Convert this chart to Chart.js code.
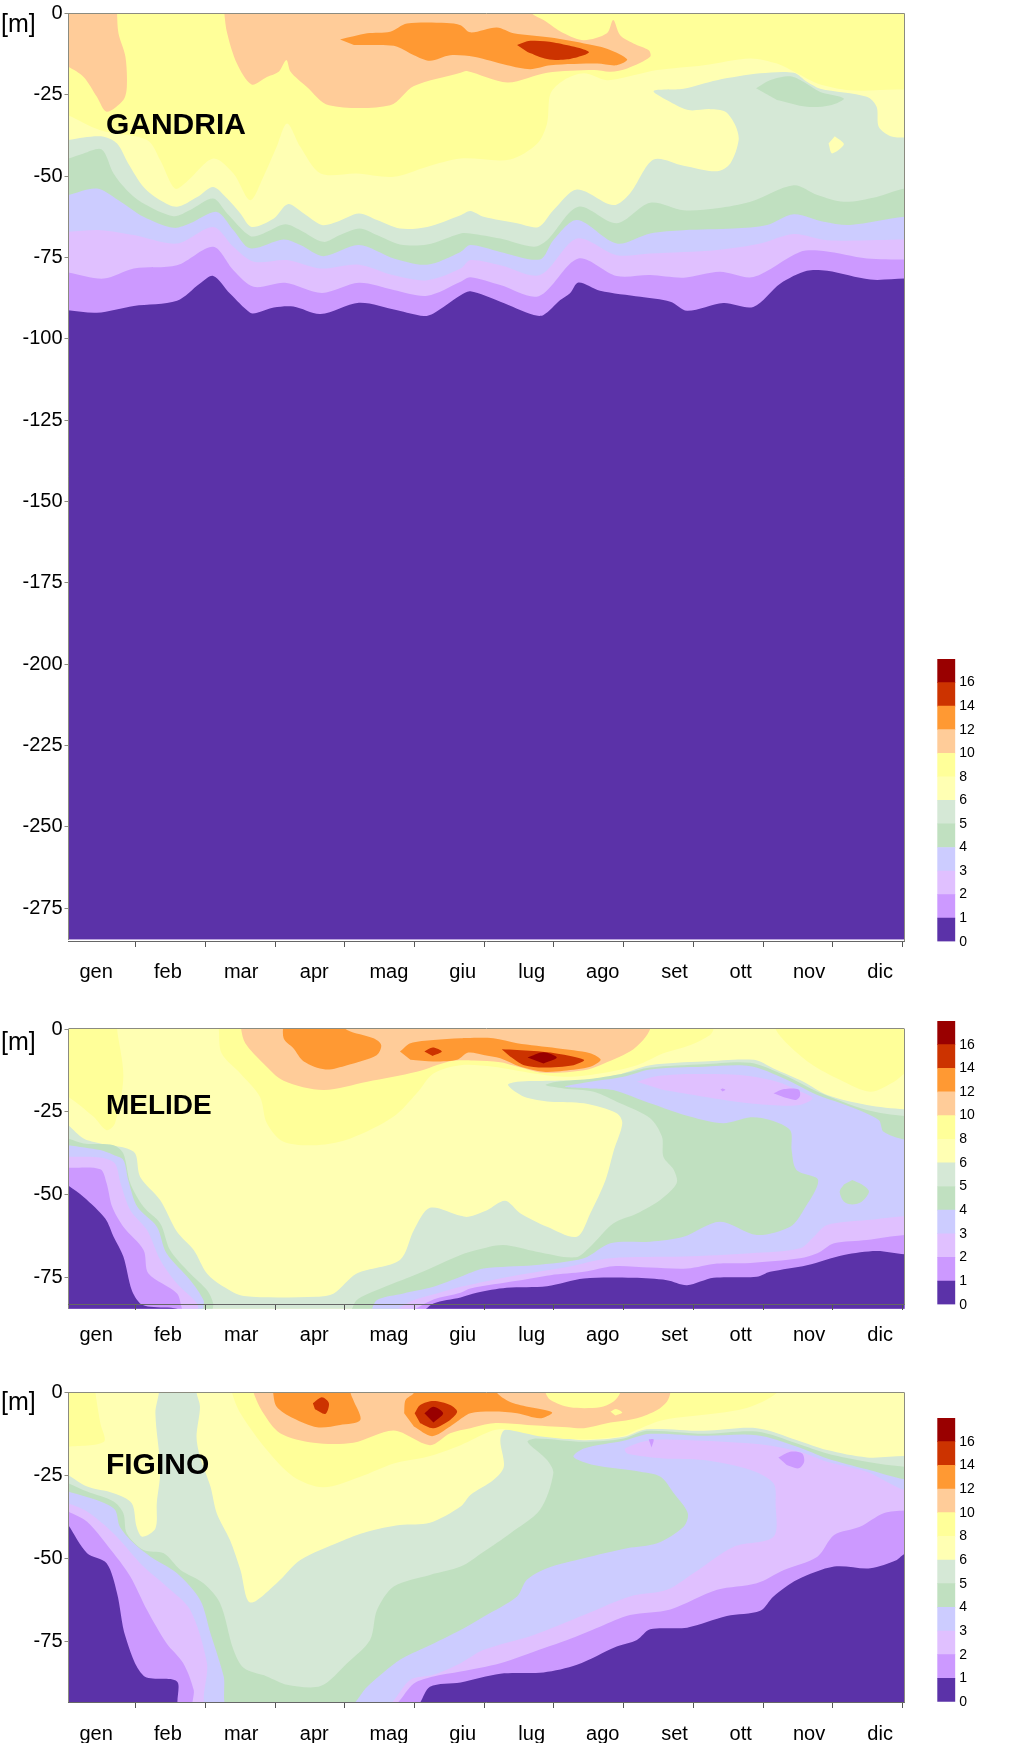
<!DOCTYPE html>
<html><head><meta charset="utf-8">
<style>html,body{margin:0;padding:0;background:#fff;width:1024px;height:1744px;overflow:hidden}canvas{position:absolute}</style>
<script src="https://cdn.jsdelivr.net/npm/chart.js@4"></script>
</head><body>
<canvas id="p1" style="left:0;top:0"></canvas>
<canvas id="p2" style="left:0;top:1000px"></canvas>
<canvas id="p3" style="left:0;top:1365px"></canvas>
<canvas id="l1" style="left:930px;top:645px"></canvas>
<canvas id="l2" style="left:930px;top:1007.3px"></canvas>
<canvas id="l3" style="left:930px;top:1404.3px"></canvas>
<script>
const months=['gen','feb','mar','apr','mag','giu','lug','ago','set','ott','nov','dic'];
const monthEnds=[1,2,3,4,5,6,7,8,9,10,11,12];
const monthLabelCenters=[.43,1.46,2.51,3.56,4.63,5.69,6.68,7.70,8.73,9.68,10.66,11.68];
const depthTicks1=[0,-25,-50,-75,-100,-125,-150,-175,-200,-225,-250,-275];
const depthTicks2=[0,-25,-50,-75];
const legendTicks=[0,1,2,3,4,5,6,8,10,12,14,16];
const c0='#5b32a8',c1='#cc99ff',c2='#e0c0ff',c3='#ccccff',c4='#c0e0c0',c5='#d5e8d6',c6='#ffffb3',c8='#ffff99',c10='#ffcc99',c12='#ff9933',c14='#cc3300',c16='#990000';
const legendColors=[c0,c1,c2,c3,c4,c5,c6,c8,c10,c12,c14,c16];

// GANDRIA contour lines: [month, depth]
const gandria6=[[.03,-38.9],[.25,-38.1],[.54,-37.9],[.73,-40],[.89,-46.1],[1.11,-53.3],[1.35,-57.4],[1.59,-59.4],[1.88,-56.4],[2.11,-53.3],[2.31,-56.9],[2.50,-61.5],[2.66,-65.6],[2.98,-63],[3.18,-58.6],[3.41,-61.5],[3.67,-65],[3.89,-64],[4.20,-61.5],[4.46,-63.5],[4.79,-66.1],[5.18,-65.6],[5.66,-62],[5.80,-60.7],[5.99,-62.5],[6.47,-64.5],[6.78,-65.6],[6.99,-60.5],[7.33,-54.1],[7.85,-58.9],[8.09,-55.3],[8.43,-44.9],[8.86,-46.8],[9.34,-48.5],[9.53,-46.1],[9.65,-38.9],[9.60,-34.3],[9.46,-30.2],[9.24,-29.4],[8.93,-29.7],[8.67,-27.2],[8.43,-23.8],[8.86,-23.1],[9.34,-20.5],[9.96,-18.4],[10.44,-18.2],[10.63,-21],[10.82,-23.1],[11.49,-25.6],[11.63,-28.7],[11.66,-34.8],[11.83,-37.7],[12.03,-38.1]];
const gandria5=[[.03,-44.6],[.25,-43],[.51,-41.8],[.68,-49.2],[.87,-54.3],[1.11,-58.4],[1.54,-62.3],[1.78,-60.4],[2.11,-56.9],[2.31,-61.5],[2.64,-68.4],[2.83,-67.6],[3.14,-64.8],[3.36,-66.6],[3.69,-70.2],[3.93,-68.1],[4.21,-66.1],[4.46,-68.1],[4.79,-71],[5.18,-71],[5.66,-67.6],[5.80,-67.6],[6.23,-69.2],[6.71,-71.7],[6.90,-69.7],[7.35,-59.4],[7.90,-64.5],[8.38,-58.2],[8.86,-60.5],[9.34,-59.9],[9.82,-57.9],[10.44,-52.8],[10.78,-55.8],[11.16,-57.9],[11.63,-56.4],[12.03,-53.8]];
const gandria5b=[[9.90,-23],[10.10,-20.5],[10.39,-19.3],[10.58,-21],[10.82,-24.1],[11.16,-26.1],[10.97,-28.2],[10.63,-28.7],[10.20,-26.6]];
const gandria6b=[[11.03,-37.7],[11.16,-40.2],[10.99,-43],[10.94,-40]];
const gandria4=[[.03,-55.8],[.44,-53.8],[.75,-57.4],[1.11,-62.5],[1.54,-65.9],[1.78,-64.5],[2.16,-61],[2.40,-66.6],[2.64,-72.2],[3.12,-69.5],[3.36,-71.2],[3.69,-74.6],[4.20,-71.2],[4.70,-75.3],[5.18,-77.2],[5.66,-73.3],[5.80,-71.2],[6.23,-73.3],[6.80,-75.6],[6.99,-69.7],[7.33,-63.5],[7.90,-70.7],[8.38,-67.6],[8.86,-66.6],[9.58,-66.1],[10.06,-65],[10.44,-61.7],[10.87,-64],[11.25,-65],[12.03,-62.5]];
const gandria3=[[.03,-67.1],[.49,-66.6],[.97,-68.1],[1.59,-70.7],[2.11,-65.6],[2.40,-71.7],[2.69,-76.3],[3.17,-75.8],[3.65,-78.4],[4.20,-77.2],[4.70,-80.5],[5.18,-82],[5.66,-78.4],[5.80,-75.8],[6.23,-77.4],[6.80,-80.4],[7.33,-69.2],[7.90,-74.3],[8.38,-73.8],[9.34,-72.7],[9.96,-70.7],[10.44,-67.8],[10.92,-69.7],[12.03,-69.5]];
const gandria2=[[.03,-79.6],[.54,-81.5],[.97,-78.4],[1.59,-77.4],[2.11,-71.7],[2.40,-78.9],[2.69,-84],[3.14,-82.8],[3.67,-85.9],[4.20,-82.8],[4.70,-85],[5.18,-86.8],[5.66,-82.5],[5.80,-81.1],[6.23,-83.5],[6.78,-86.9],[7.35,-75.3],[7.90,-80.7],[8.38,-80.4],[8.86,-81.2],[9.38,-79.4],[9.86,-81],[10.53,-73.3],[10.87,-73],[11.49,-75.3],[12.03,-75.6]];
const gandria1=[[.03,-91.2],[.44,-92],[.97,-89.9],[1.59,-88.3],[1.92,-83],[2.11,-80.7],[2.35,-86.1],[2.64,-92],[2.74,-92],[2.98,-90.4],[3.26,-90.1],[3.65,-92.4],[4.20,-88.9],[4.75,-91.2],[5.13,-93],[5.27,-92.2],[5.66,-86.6],[5.80,-85.4],[6.23,-88.6],[6.71,-92.7],[6.85,-92.7],[7.09,-88.1],[7.23,-86],[7.35,-82.7],[7.66,-85.2],[8.24,-87.1],[8.67,-88.6],[8.91,-91.4],[9.43,-89],[9.86,-90.2],[10.25,-83],[10.63,-79.1],[10.92,-79.1],[11.54,-81.8],[12.03,-81.5]];
const gandria8=[[.03,-31.3],[.49,-35.9],[1.16,-38.9],[1.35,-45.1],[1.56,-53.8],[1.73,-51.7],[2.11,-44.6],[2.40,-49.2],[2.64,-57.4],[2.83,-50.2],[3.02,-41],[3.17,-33.8],[3.36,-41],[3.65,-49.2],[4.17,-49.2],[4.70,-50.2],[5.18,-47.1],[5.66,-44.6],[6.37,-44.9],[6.76,-40],[6.90,-33.8],[6.95,-24.6],[7.14,-20.5],[7.43,-18.4],[7.76,-20.5],[8.14,-19],[8.48,-17.4],[9.15,-15.9],[9.82,-13.8],[10.2,-15.4],[10.49,-18.4],[10.78,-21.5],[11.25,-23.6],[11.92,-23.4],[12.03,-23.4]];
const gandria10a=[[-.2,3],[.73,3],[.73,0],[.75,-6.1],[.85,-13.3],[.87,-22.5],[.82,-26.6],[.58,-30.2],[.44,-25.6],[.25,-19.5],[.03,-16.4],[-.2,-14]];
const gandria10b=[[2.27,3],[2.27,0],[2.31,-6.1],[2.45,-15.4],[2.66,-21.8],[2.88,-19.5],[3.05,-17.9],[3.16,-14.3],[3.22,-17.9],[3.45,-22.5],[3.77,-28.2],[4.65,-28.2],[4.99,-22.3],[5.66,-18.2],[5.75,-17.7],[6.33,-21.2],[6.90,-18.2],[7.57,-17.4],[7.81,-17.9],[8.05,-16.9],[8.38,-13.3],[8.36,-11.3],[8.14,-9.2],[7.95,-6.7],[7.85,-2],[7.76,-6.1],[7.43,-8.2],[7.14,-6.1],[6.85,-2],[6.68,0],[6.6,3]];
const gandria12=[[3.93,-8],[4.32,-6.1],[4.65,-5.6],[4.89,-3.1],[5.46,-2.9],[5.66,-3.6],[5.80,-5.8],[6.18,-4.3],[6.42,-6.1],[6.95,-7.4],[7.43,-9.2],[7.76,-10.8],[8.05,-14.1],[7.90,-15.9],[7.62,-15.4],[6.95,-15.9],[6.66,-17.1],[6.33,-15.9],[5.85,-13.3],[5.51,-12.8],[5.22,-14.5],[4.99,-12.8],[4.75,-10.2],[4.55,-9.7],[4.13,-9.7]];
const gandria14=[[6.47,-9.7],[6.66,-8.4],[7,-8.9],[7.50,-11.8],[7.19,-14.1],[6.90,-14],[6.62,-11.8]];

// MELIDE
const melide6=[[.03,-28.9],[.25,-33],[.49,-34.5],[.97,-37],[1.06,-44.5],[1.35,-51.6],[1.59,-61.1],[1.83,-66.6],[2.02,-73.7],[2.26,-77.7],[2.55,-80.5],[3.60,-80.7],[3.84,-79.7],[4.17,-73.7],[4.79,-69.6],[4.99,-60.6],[5.22,-53.9],[5.66,-56.3],[5.77,-56.6],[6.04,-54.6],[6.30,-51.8],[6.52,-55.6],[6.90,-59.6],[7.33,-62.6],[7.52,-55.6],[7.74,-45.5],[7.86,-36.5],[7.98,-28.4],[7.90,-25.4],[7.43,-22.4],[6.95,-21.9],[6.57,-20.4],[6.34,-16.9],[6.47,-15.9],[6.95,-15.6],[7.52,-15.2],[7.90,-13.9],[8.38,-10.9],[9.15,-9.8],[9.87,-9.3],[10.15,-11.9],[10.58,-15.9],[10.92,-19.9],[11.49,-22.9],[12.03,-24.2]];
const melide5=[[.03,-33],[.25,-34.5],[.68,-35],[.82,-37.5],[.92,-46.5],[1.11,-53.6],[1.35,-58.6],[1.49,-66.6],[1.78,-73.7],[2.02,-78.7],[2.11,-82.7],[2.11,-86],[4.03,-86],[4.17,-81.7],[4.46,-78.7],[4.94,-74.7],[5.27,-71.7],[5.66,-68.1],[5.89,-66.6],[6.27,-65.1],[6.75,-67.1],[7.31,-68.8],[7.52,-65.6],[7.85,-58.6],[8.19,-55.6],[8.52,-51.6],[8.76,-46.5],[8.72,-42.5],[8.57,-38.5],[8.55,-32.5],[8.38,-26.9],[7.95,-22.4],[7.57,-18.9],[7.14,-17.9],[6.88,-16.9],[7.04,-15.9],[7.57,-14.9],[8.00,-13.4],[8.38,-11.6],[9.15,-10.6],[9.82,-10.2],[10.30,-13.9],[10.78,-18.9],[11.49,-24.4],[12.03,-26.2]];
const melide4=[[.03,-35],[.49,-36.5],[.68,-38],[.82,-39.5],[.89,-45.5],[1.02,-53.6],[1.30,-59.6],[1.44,-67.6],[1.78,-75.7],[1.97,-81.7],[1.99,-86],[4.32,-86],[4.46,-81.7],[4.84,-79.7],[5.27,-77.7],[5.66,-74.7],[5.99,-72.2],[6.71,-71.2],[7.43,-69.1],[7.81,-64.6],[8.38,-64.1],[8.86,-62.6],[9.38,-58.1],[9.91,-62.1],[10.39,-59.6],[10.58,-54.6],[10.79,-45.5],[10.48,-42.5],[10.41,-36.5],[10.39,-30.5],[10.10,-27.4],[9.82,-26.6],[9.43,-28.4],[8.95,-26.4],[8.38,-22.4],[7.85,-18.4],[7.52,-17.9],[7.16,-17.4],[7.43,-16.2],[8,-14.4],[8.38,-12.2],[9.15,-11.4],[9.82,-11.2],[10.3,-14.9],[10.78,-19.9],[11.25,-23.4],[11.66,-27.4],[11.73,-31],[12.03,-33.3]];
const melide5b=[[11.28,-45.5],[11.42,-46.9],[11.52,-49],[11.42,-52],[11.28,-52.9],[11.16,-52],[11.1,-49],[11.16,-46.9]];
const melide3=[[.03,-38.5],[.49,-38.7],[.70,-40.5],[.78,-46.5],[.92,-54.6],[1.16,-60.6],[1.35,-69.6],[1.59,-76.7],[1.88,-82.7],[1.92,-86],[4.55,-86],[4.99,-81.7],[5.32,-79.7],[5.66,-77.7],[6.47,-74.2],[7.19,-71.7],[7.81,-69.1],[8.86,-68.6],[9.82,-67.6],[10.53,-66.1],[10.73,-62.6],[10.92,-59.1],[11.49,-57.6],[12.03,-56.4]];
const melide3b=[[8.19,-15.9],[8.43,-14.4],[8.95,-13.6],[9.67,-13.9],[10.2,-15.9],[10.49,-18.4],[10.71,-20.9],[10.53,-22.9],[10.1,-22.9],[9.62,-21.9],[9.15,-20.4],[8.57,-18.4]];
const melide2=[[.03,-41.8],[.49,-42.3],[.58,-46.5],[.66,-53.6],[.82,-59.6],[1.11,-66.6],[1.18,-73.7],[1.59,-79.7],[1.73,-86],[4.79,-86],[5.27,-81.5],[5.66,-79.5],[5.80,-78.2],[6.47,-75.9],[6.95,-74.2],[7.43,-73.2],[7.85,-71.5],[8.38,-71.9],[8.91,-72.2],[9.34,-70.7],[9.82,-70.5],[10.53,-69.1],[10.78,-67.6],[11.02,-64.6],[11.49,-63.6],[12.03,-62.1]];
const melide2b=[[10.15,-19.4],[10.30,-18.1],[10.51,-18.2],[10.53,-20.2],[10.47,-21.4],[10.30,-20.6]];
const melide2c=[[9.39,-18.2],[9.42,-17.9],[9.46,-18.3],[9.42,-18.8]];
const melide1=[[.03,-47.2],[.25,-50.6],[.56,-57.1],[.68,-62.6],[.82,-68.6],[.94,-78.7],[1.06,-82.7],[1.21,-83.7],[1.59,-84.3],[1.59,-86],[5.03,-86],[5.27,-82.7],[5.66,-80.9],[5.89,-79.5],[6.32,-78],[6.90,-77.5],[7.43,-75.2],[8.14,-75],[8.62,-75.7],[8.91,-77.2],[9.29,-75],[9.91,-74.7],[10.10,-73.2],[10.63,-71.2],[11.16,-68.1],[11.63,-66.9],[12.03,-67.9]];
const melide8a=[[.73,3],[.73,0],[.82,-14.4],[.70,-28.4],[.58,-30.5],[.39,-26.4],[.03,-20.4],[-.2,-18],[-.2,3]];
const melide8b=[[2.19,3],[2.19,0],[2.23,-7.3],[2.50,-13.4],[2.78,-20.4],[2.88,-28.4],[3.12,-34],[3.60,-35],[4.08,-33],[4.70,-26.4],[5.03,-19.4],[5.27,-13.4],[5.66,-10.9],[6.13,-11.4],[6.71,-13.4],[7.19,-14.4],[7.66,-13.4],[8.19,-10.9],[8.57,-7.3],[8.96,-4.8],[9.24,-1.8],[9.29,0],[9.29,3]];
const melide8c=[[10.18,3],[10.18,0],[10.34,-4.3],[10.68,-10.4],[11.11,-15.4],[11.54,-18.9],[11.88,-15.9],[12.03,-13.4],[12.3,-10],[12.3,3]];
const melide10=[[2.51,3],[2.51,0],[2.57,-4.3],[2.83,-10.4],[3.12,-15.6],[3.69,-18.4],[4.32,-15.9],[5.03,-12.9],[5.51,-9.7],[5.85,-9.5],[6.23,-10],[6.42,-11],[6.85,-13.2],[7.43,-12.4],[7.66,-10.9],[8.09,-6.8],[8.28,-3.3],[8.38,0],[8.38,3]];
const melide12a=[[3.12,3],[3.12,-2.8],[3.26,-5.8],[3.41,-9.8],[3.72,-12.2],[4.03,-10.9],[4.46,-7.8],[4.52,-4.8],[4.41,-2.8],[4.03,-.3],[3.9,3]];
const melide12b=[[4.79,-6.8],[4.94,-4.3],[5.27,-3.3],[5.66,-2.8],[5.75,-2.7],[6.13,-2.8],[6.47,-4.3],[7.04,-5.8],[7.52,-7.3],[7.67,-9.3],[7.52,-11.4],[7.14,-12.6],[6.85,-12.9],[6.52,-11.4],[6.23,-8.8],[5.99,-7.8],[5.77,-7.1],[5.61,-9.3],[5.27,-9.8],[4.94,-9.3]];
const melide14a=[[5.14,-6.8],[5.26,-5.6],[5.39,-6.8],[5.26,-8.1]];
const melide14b=[[6.25,-6.1],[6.47,-6.3],[6.95,-7.1],[7.43,-9.3],[7.28,-10.9],[6.85,-11.6],[6.57,-10.9],[6.37,-8.3]];
const melide16=[[6.62,-8.6],[6.85,-7],[7.04,-8.6],[6.85,-10.4]];

// FIGINO
const figino6=[[.03,-24.8],[.30,-28.3],[.68,-30.3],[.94,-33.3],[1.01,-40.4],[1.09,-43.4],[1.28,-40.9],[1.30,-33.3],[1.35,-23.3],[1.28,-6.2],[1.33,0],[1.33,3],[1.87,3],[1.87,0],[1.92,-4.2],[1.87,-13.3],[1.92,-19.3],[2.07,-28.3],[2.16,-36.3],[2.35,-44.4],[2.50,-53.4],[2.64,-63.2],[3.02,-57.4],[3.36,-50.4],[3.93,-44.9],[4.32,-41.9],[4.79,-39.9],[5.22,-39.2],[5.66,-34.3],[5.80,-30.8],[6.13,-26.3],[6.28,-22.3],[6.23,-14.3],[6.30,-11.2],[6.85,-13],[7.43,-14.3],[8,-13.3],[8.33,-11],[9.15,-11.5],[9.91,-10.7],[10.49,-14.3],[10.92,-17.3],[11.49,-19.5],[12.03,-19.1]];
const figino5=[[.03,-27.3],[.30,-29.8],[.68,-32.8],[.82,-36.3],[.87,-42.4],[1.11,-47.4],[1.40,-48.4],[1.64,-53.4],[1.97,-57.4],[2.21,-63.5],[2.40,-77.5],[2.55,-83],[2.88,-85.5],[3.17,-88],[3.65,-88.4],[4.03,-81.5],[4.36,-74.5],[4.46,-65.5],[4.70,-58.4],[5.22,-54.9],[5.66,-52.4],[5.99,-47.9],[6.37,-42.4],[6.80,-35.3],[6.99,-24.3],[6.90,-20.3],[6.62,-14.8],[6.75,-13.8],[7.43,-14.8],[8,-13.8],[8.33,-11.5],[9.15,-12.4],[9.91,-11.7],[10.49,-15.3],[10.92,-18.3],[11.49,-20.8],[12.03,-22.3]];
const figino4=[[.03,-29.8],[.49,-32.8],[.70,-35.3],[.77,-40.4],[.97,-45.4],[1.21,-49.4],[1.59,-54.4],[1.92,-62.4],[2.07,-72.5],[2.26,-85.5],[2.33,-95],[4.03,-95],[4.32,-88.6],[4.79,-80.5],[5.18,-76.5],[5.66,-71.5],[5.99,-67.5],[6.47,-61.4],[6.61,-56.4],[6.90,-52.9],[7.43,-49.9],[8.05,-46.9],[8.48,-45.4],[8.86,-40.4],[8.92,-36.3],[8.72,-30.3],[8.53,-25.3],[8.24,-23.8],[7.57,-21.8],[7.28,-19.3],[7.43,-16.8],[8,-14.5],[8.38,-12.4],[9.15,-13],[9.91,-12.8],[10.49,-16.3],[10.92,-19.8],[11.49,-23.1],[12.03,-26.1]];
const figino3=[[.03,-33.3],[.30,-35.8],[.68,-42.4],[1.11,-52.4],[1.44,-58.4],[1.78,-65.5],[2.02,-81.5],[2.04,-95],[4.55,-95],[4.94,-86.5],[5.27,-85],[5.66,-81.5],[5.99,-77.5],[6.71,-73],[7.43,-67],[8.09,-61.4],[8.62,-59.4],[9,-54.4],[9.58,-46.4],[10.15,-43.4],[10.18,-33.3],[10.15,-27.3],[9.82,-23.3],[9.15,-20.3],[8.57,-19.8],[8.05,-18.3],[8.02,-16.8],[8.38,-14.3],[9.15,-14.5],[10.06,-15.8],[10.53,-17.8],[10.92,-20.8],[11.49,-23.8],[12.03,-29.3]];
const figino2=[[.03,-35.8],[.30,-38.9],[.68,-48.4],[.92,-55.4],[1.16,-65.5],[1.44,-75.5],[1.68,-81.5],[1.83,-89.6],[1.84,-95],[4.63,-95],[4.99,-87.6],[5.27,-85.5],[5.66,-84],[6.23,-81.5],[6.85,-77],[7.19,-74.5],[7.66,-70.5],[8.09,-67],[8.67,-65.3],[9.34,-59.4],[9.91,-57.4],[10.3,-53.4],[10.78,-49.4],[11.02,-42.9],[11.39,-40.4],[11.73,-36.3],[12.03,-35.5]];
const figino2b=[[10.22,-19.5],[10.39,-17.8],[10.56,-18.3],[10.59,-20.8],[10.51,-22.8],[10.34,-21.8]];
const figino2c=[[8.36,-14.1],[8.43,-14.1],[8.40,-16.5]];
const figino1=[[.03,-39.9],[.30,-48.4],[.58,-51.4],[.73,-60.4],[.85,-73.5],[1.11,-85.3],[1.59,-87],[1.64,-95],[4.99,-95],[5.22,-88.6],[5.66,-87.3],[6.23,-84.7],[6.85,-84.3],[7.33,-82],[7.90,-76.5],[8.19,-74.5],[8.38,-71.3],[8.91,-70.8],[9.48,-67.3],[9.96,-65.7],[10.15,-61.4],[10.49,-56.4],[11.02,-52.4],[11.54,-52.9],[11.92,-50.4],[12.03,-48.7]];
const figino8a=[[.42,3],[.42,0],[.49,-9.2],[.54,-14.8],[.03,-16.3],[-.2,-16.5],[-.2,3]];
const figino8b=[[2.38,3],[2.38,0],[2.50,-6.2],[2.88,-17.3],[3.26,-25.3],[3.69,-28.5],[4.22,-25.3],[4.70,-21.3],[5.18,-19.3],[5.66,-15.8],[6.08,-11.7],[6.28,-11],[6.85,-13.3],[7.43,-14.1],[8,-13],[8.19,-11.2],[8.57,-8.2],[9.34,-6.2],[9.82,-4.2],[10.2,0],[10.2,3]];
const figino10=[[2.69,3],[2.69,0],[2.83,-6.2],[3.07,-12.2],[3.55,-15.1],[4.12,-15.1],[4.70,-11.4],[5.22,-15.8],[5.51,-12.2],[5.80,-10.7],[6.13,-9.2],[6.62,-9.7],[7.19,-10.4],[7.43,-10.7],[7.76,-9.2],[8.19,-7.7],[8.48,-5.2],[8.62,-2.7],[8.67,0],[8.67,3]];
const figino8c=[[6.88,3],[6.88,0],[6.95,-2.2],[7.23,-4.4],[7.66,-4.4],[7.85,-2.7],[7.95,0],[7.95,3]];
const figino8d=[[7.81,-5.7],[7.89,-4.9],[7.98,-6],[7.88,-6.9]];
const figino12a=[[2.97,3],[2.97,0],[3.02,-4.2],[3.26,-7.7],[3.60,-10.4],[3.93,-9.7],[4.22,-8.2],[4.12,-2.2],[4.08,0],[4.08,3]];
const figino12b=[[4.85,-6.2],[4.87,-2.2],[4.99,0],[4.99,3],[6.18,3],[6.18,0],[6.42,-3.2],[6.97,-5.9],[6.80,-7.7],[6.47,-6.2],[6.13,-5.7],[5.80,-6.2],[5.61,-8.7],[5.51,-10.2],[5.25,-13.1],[4.99,-10.2]];
const figino14a=[[3.54,-3.2],[3.67,-1.4],[3.77,-3.2],[3.72,-6.4],[3.57,-5]];
const figino14b=[[5,-6.2],[5.08,-3.7],[5.27,-2.5],[5.51,-3.7],[5.61,-5.7],[5.51,-8.2],[5.27,-10.7],[5.08,-9.2]];
const figino16=[[5.14,-6.2],[5.27,-4.2],[5.41,-6.2],[5.27,-9]];

const FONT='"Liberation Sans", Arial, sans-serif';
const EDGE='#8b8b80';
const below=pts=>pts.concat([[12.4,pts[pts.length-1][1]],[12.4,-400],[-.4,-400],[-.4,pts[0][1]]]);
const above=pts=>pts.concat([[12.4,pts[pts.length-1][1]],[12.4,5],[-.4,5],[-.4,pts[0][1]]]);
const base=[[-.4,5],[12.4,5],[12.4,-400],[-.4,-400]];
const layer=(data,color,tension=.3)=>({data,backgroundColor:color,borderColor:'transparent',borderWidth:0,pointRadius:0,pointHoverRadius:0,showLine:true,fill:'shape',tension});

const frame={id:'frame',afterDraw(ch,_,o){
  const {ctx,chartArea:a,scales:{x,y}}=ch;ctx.save();
  ctx.strokeStyle=EDGE;ctx.lineWidth=1;ctx.beginPath();
  ctx.moveTo(a.left,Math.round(a.top)-.5);ctx.lineTo(a.right,Math.round(a.top)-.5);
  ctx.moveTo(Math.round(a.right)-.5,a.top);ctx.lineTo(Math.round(a.right)-.5,y.getPixelForValue(o.axisDepth));ctx.stroke();
  ctx.fillStyle='#000';ctx.textBaseline='middle';ctx.textAlign='left';
  ctx.font='bold '+o.nameSize+'px '+FONT;
  ctx.fillText(o.name,x.getPixelForValue(.57),y.getPixelForValue(o.nameDepth)+2);
  ctx.font='25px '+FONT;ctx.fillText('[m]',1,a.top+o.unitOffset);
  ctx.restore();
}};
function panel(id,{layers,height,yMin,axisDepth,ticks,name,nameSize,nameDepth,unitOffset,top,bottomH,labelPad}){
  const ax=document.getElementById(id);ax.width=915;ax.height=height;ax.style.width='915px';ax.style.height=height+'px';
  new Chart(ax,{type:'scatter',plugins:[frame],data:{datasets:layers.slice().reverse()},options:{
    responsive:false,animation:false,devicePixelRatio:1,
    layout:{padding:{top,right:10.5,left:0,bottom:0}},
    plugins:{legend:{display:false},tooltip:{enabled:false},frame:{axisDepth,name,nameSize,nameDepth,unitOffset}},
    scales:{
      y:{min:yMin,max:0,position:'left',afterBuildTicks:s=>{s.ticks=ticks.map(value=>({value}))},
        afterFit:s=>{s.width=68.5;s.paddingTop=s.paddingBottom=s.paddingLeft=s.paddingRight=0},
        grid:{drawOnChartArea:false,color:EDGE,tickLength:4,z:1},border:{color:EDGE,z:1},
        ticks:{color:'#000',padding:2,font:{family:FONT,size:20},callback:v=>String(v)}},
      x:{type:'linear',min:.033,max:12.03,position:{y:axisDepth},afterBuildTicks:s=>{s.ticks=monthEnds.map(value=>({value}))},
        afterFit:s=>{s.paddingTop=s.paddingBottom=s.paddingLeft=s.paddingRight=0},
        grid:{drawOnChartArea:false,color:'#555',tickLength:5,z:1},border:{color:'#666',z:1},ticks:{display:false}},
      x2:{type:'linear',axis:'x',min:.033,max:12.03,position:'bottom',afterBuildTicks:s=>{s.ticks=monthLabelCenters.map(value=>({value}))},
        afterFit:s=>{s.height=bottomH;s.paddingTop=s.paddingBottom=s.paddingLeft=s.paddingRight=0},
        grid:{display:false},border:{display:false},
        ticks:{color:'#000',padding:labelPad,autoSkip:false,maxRotation:0,font:{family:FONT,size:20},callback:(v,i)=>months[i]}}
    }}});
}
function legendChart(id,top,plotH,height){
  const ax=document.getElementById(id);ax.width=90;ax.height=height;ax.style.width='90px';ax.style.height=height+'px';
  new Chart(ax,{type:'bar',data:{labels:[''],datasets:legendColors.map(c=>({data:[1],backgroundColor:c,barPercentage:1,categoryPercentage:1,borderWidth:0}))},options:{
    responsive:false,animation:false,devicePixelRatio:1,
    layout:{padding:{top,left:7.3,right:0,bottom:height-top-plotH}},
    plugins:{legend:{display:false},tooltip:{enabled:false}},
    scales:{x:{stacked:true,display:false},
      y:{stacked:true,min:0,max:12,position:'right',afterBuildTicks:s=>{s.ticks=legendTicks.map((_,i)=>({value:i}))},
        afterFit:s=>{s.width=64.7;s.paddingTop=s.paddingBottom=s.paddingLeft=s.paddingRight=0},
        grid:{display:true,drawTicks:false,drawOnChartArea:false,color:'transparent'},border:{display:false},
        ticks:{color:'#000',padding:4,font:{family:FONT,size:14},callback:(v,i)=>String(legendTicks[i])}}}
  }});
}
panel('p1',{height:995,yMin:-284.6,axisDepth:-285.25,ticks:depthTicks1,name:'GANDRIA',nameSize:30,nameDepth:-34,unitOffset:11.5,top:13.5,bottomH:55.7,labelPad:13.6,
 layers:[layer(base,c6,0),layer(below(gandria6),c5),layer(gandria6b,c6),layer(gandria5b,c4),layer(below(gandria5),c4),layer(below(gandria4),c3),layer(below(gandria3),c2),layer(below(gandria2),c1),layer(below(gandria1),c0),layer(above(gandria8),c8),layer(gandria10a,c10),layer(gandria10b,c10),layer(gandria12,c12),layer(gandria14,c14)]});
panel('p2',{height:360,yMin:-84.3,axisDepth:-83,ticks:depthTicks2,name:'MELIDE',nameSize:28,nameDepth:-22.7,unitOffset:14,top:29,bottomH:51.3,labelPad:7,
 layers:[layer(base,c6,0),layer(below(melide6),c5),layer(below(melide5),c4),layer(below(melide4),c3),layer(melide5b,c4),layer(below(melide3),c2),layer(melide3b,c2),layer(below(melide2),c1),layer(melide2b,c1),layer(melide2c,c1),layer(below(melide1),c0),layer(melide8a,c8),layer(melide8b,c8),layer(melide8c,c8),layer(melide10,c10),layer(melide12a,c12),layer(melide12b,c12),layer(melide14a,c14),layer(melide14b,c14),layer(melide16,c16)]});
panel('p3',{height:378,yMin:-93.3,axisDepth:-93.3,ticks:depthTicks2,name:'FIGINO',nameSize:30,nameDepth:-21.3,unitOffset:10,top:27.7,bottomH:40.7,labelPad:12.5,
 layers:[layer(base,c6,0),layer(below(figino6),c5),layer(below(figino5),c4),layer(below(figino4),c3),layer(below(figino3),c2),layer(below(figino2),c1),layer(figino2b,c1),layer(figino2c,c1),layer(below(figino1),c0),layer(figino8a,c8),layer(figino8b,c8),layer(figino10,c10),layer(figino8c,c8),layer(figino8d,c8),layer(figino12a,c12),layer(figino12b,c12),layer(figino14a,c14),layer(figino14b,c14),layer(figino16,c16)]});
legendChart('l1',14,282.7,320);
legendChart('l2',14,283.7,320);
legendChart('l3',14,284,320);
</script></body></html>
